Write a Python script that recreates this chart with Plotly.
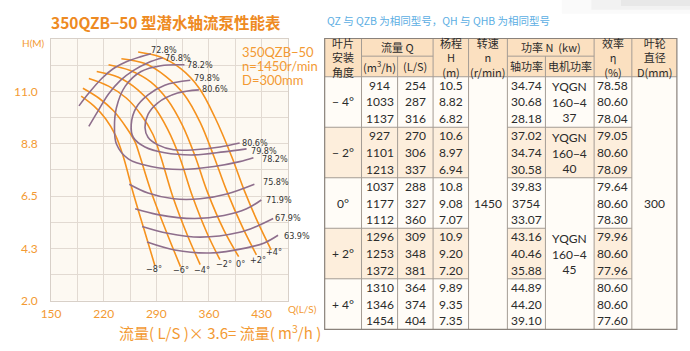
import plotly.graph_objects as go

W, H = 690, 351

# ---------------- chart data ----------------
x_grid = [150, 185, 220, 255, 290, 325, 360, 395, 430, 465]
x_tick_text = ["150", "", "220", "", "290", "", "360", "", "430", ""]
y_grid = [2.0, 3.125, 4.25, 5.375, 6.5, 7.625, 8.75, 9.875, 11.0, 12.125, 13.25]
y_tick_text = ["2.0", "", "4.3", "", "6.5", "", "8.8", "", "11.0", "", ""]

# blade angle curves (Q in L/S, H in m)
ang_labels = ["−8°", "−6°", "−4°", "−2°", "0°", "+2°", "+4°"]
q_m8 = [190, 206.8, 222.5, 235.6, 246.1, 259.2, 273.6, 288.0]
h_m8 = [10.80, 10.38, 9.83, 9.12, 8.19, 6.63, 5.07, 3.51]
q_m6 = [192.3, 213.3, 233.0, 250.0, 261.8, 268.4, 282.8, 302.5, 322.1]
h_m6 = [11.14, 10.72, 10.17, 9.45, 8.82, 8.19, 6.71, 5.03, 3.46]
q_m4 = [200.2, 226.4, 250.0, 269.7, 285.4, 295.9, 311.6, 331.3, 348.3]
h_m4 = [11.56, 11.23, 10.72, 10.00, 9.16, 8.19, 6.50, 4.81, 3.55]
q_m2 = [210.7, 239.5, 265.8, 288.0, 305.1, 320.8, 337.9, 357.5, 374.6]
h_m2 = [11.86, 11.61, 11.06, 10.30, 9.37, 8.19, 6.50, 4.90, 3.76]
q_0 = [226.4, 255.3, 282.8, 305.1, 324.7, 341.8, 357.5, 379.8, 399.5]
h_0 = [12.15, 11.90, 11.40, 10.63, 9.54, 8.19, 6.71, 5.03, 3.89]
q_p2 = [243.5, 274.9, 302.5, 327.4, 348.3, 366.7, 383.7, 404.7, 423.1]
h_p2 = [12.41, 12.20, 11.65, 10.85, 9.67, 8.19, 6.71, 5.15, 3.97]
q_p4 = [265.8, 294.6, 322.1, 347.0, 368.0, 390.3, 407.3, 425.7, 442.7]
h_p4 = [12.70, 12.49, 11.99, 11.14, 9.88, 8.19, 6.71, 5.32, 4.18]
ang_label_q = [286.7, 323.4, 351.0, 379.4, 402.1, 425.7, 446.7]
ang_label_h = [3.38, 3.32, 3.32, 3.59, 3.59, 3.76, 4.07]

# efficiency curves
q_e728 = [187.1, 200.2, 217.3, 233.0, 250.0, 268.4, 282.8]
h_e728 = [10.38, 10.93, 11.56, 11.99, 12.28, 12.49, 12.62]
q_e768 = [200.2, 213.3, 226.4, 242.2, 259.2, 278.9, 298.5]
h_e768 = [9.50, 10.21, 10.89, 11.48, 11.90, 12.24, 12.45]
q_e782 = [327.4, 295.9, 269.7, 248.7, 236.9, 234.3, 236.9, 252.6, 282.8, 322.1, 366.7, 400.8, 419.1]
h_e782 = [12.15, 12.11, 11.86, 11.23, 10.30, 9.45, 8.74, 8.10, 7.77, 7.64, 7.77, 7.98, 8.15]
q_e798 = [335.2, 301.2, 278.9, 263.1, 256.6, 259.2, 274.9, 301.2, 340.5, 379.8, 410.0]
h_e798 = [11.48, 11.27, 10.85, 10.30, 9.58, 9.03, 8.61, 8.36, 8.27, 8.40, 8.53]
q_e806 = [346.6, 318.2, 292.0, 278.9, 274.9, 278.9, 292.0, 313.0, 340.5, 374.6, 400.8]
h_e806 = [11.07, 10.93, 10.51, 10.01, 9.45, 9.03, 8.70, 8.49, 8.49, 8.61, 8.78]
q_e758 = [254.0, 278.9, 313.0, 348.3, 383.7, 420.4]
h_e758 = [7.01, 6.63, 6.38, 6.38, 6.59, 7.01]
q_e719 = [261.8, 292.0, 340.5, 379.8, 410.0, 429.6]
h_e719 = [5.95, 5.70, 5.53, 5.66, 5.95, 6.33]
q_e679 = [271.0, 305.1, 348.3, 400.8, 423.1, 445.4]
h_e679 = [5.19, 4.90, 4.73, 4.94, 5.19, 5.53]
q_e639 = [277.6, 314.3, 361.5, 410.0, 433.6, 451.9]
h_e639 = [4.52, 4.18, 4.05, 4.27, 4.48, 4.81]

# label anchor = left edge of each efficiency label
eff_labels = ["72.8%", "76.8%", "78.2%", "79.8%", "80.6%", "80.6%", "79.8%", "78.2%",
              "75.8%", "71.9%", "67.9%", "63.9%"]
eff_label_q = [280.0, 299.0, 328.5, 338.0, 348.5, 401.5, 413.0, 427.5, 429.5, 433.0, 445.5, 457.0]
eff_label_h = [12.79, 12.44, 12.13, 11.56, 11.10, 8.78, 8.44, 8.10, 7.09, 6.33, 5.57, 4.77]

# ---------------- table data ----------------
tbl_angles = ["− 4°", "− 2°", "0°", "+ 2°", "+ 4°"]
tbl_q_m3h = ["914", "1033", "1137", "927", "1101", "1213", "1037", "1177", "1112",
             "1296", "1253", "1372", "1310", "1346", "1454"]
tbl_q_ls = ["254", "287", "316", "270", "306", "337", "288", "327", "360",
            "309", "348", "381", "364", "374", "404"]
tbl_head = ["10.5", "8.82", "6.82", "10.6", "8.97", "6.94", "10.8", "9.08", "7.07",
            "10.9", "9.20", "7.20", "9.89", "9.35", "7.35"]
tbl_shaft = ["34.74", "30.68", "28.18", "37.02", "34.74", "30.58", "39.83", "3754", "33.07",
             "43.16", "40.46", "35.88", "44.89", "44.20", "39.10"]
tbl_eff = ["78.58", "80.60", "78.04", "79.05", "80.60", "78.09", "79.64", "80.60", "78.30",
           "79.96", "80.60", "77.96", "80.60", "80.60", "77.60"]
tbl_motor = ["YQGN<br>160−4<br>37", "YQGN<br>160−4<br>40", "YQGN<br>160−4<br>45"]
tbl_motor_rows = [(0, 3), (3, 6), (6, 15)]
tbl_speed = "1450"
tbl_diam = "300"

# ---------------- styling ----------------
ORANGE = "#F5921E"
ORANGE_TXT = "#F39A33"
PURPLE = "#8E6E8C"
GRID = "#E2DAD2"
CJK = "Noto Sans CJK SC"
NUM = "Lato, Noto Sans CJK SC, sans-serif"
NARROW = "Liberation Sans Narrow, DejaVu Sans Condensed, sans-serif"


def px(x):
    return x / W


def py(y):
    return 1 - y / H


fig = go.Figure()

angle_q = [q_m8, q_m6, q_m4, q_m2, q_0, q_p2, q_p4]
angle_h = [h_m8, h_m6, h_m4, h_m2, h_0, h_p2, h_p4]
for q, h in zip(angle_q, angle_h):
    fig.add_trace(go.Scatter(x=q, y=h, mode="lines", line=dict(color=ORANGE, width=1.6, shape="spline"),
                             hoverinfo="skip", cliponaxis=False))

eff_q = [q_e728, q_e768, q_e782, q_e798, q_e806, q_e758, q_e719, q_e679, q_e639]
eff_h = [h_e728, h_e768, h_e782, h_e798, h_e806, h_e758, h_e719, h_e679, h_e639]
for q, h in zip(eff_q, eff_h):
    fig.add_trace(go.Scatter(x=q, y=h, mode="lines", line=dict(color=PURPLE, width=1.6, shape="spline"),
                             hoverinfo="skip", cliponaxis=False))

ann = []
shapes = []

for t, q, h in zip(eff_labels, eff_label_q, eff_label_h):
    ann.append(dict(x=q, y=h, xref="x", yref="y", text=t, showarrow=False, xanchor="left", yanchor="middle",
                    font=dict(size=9, color="#333333", family=NARROW)))
for t, q, h in zip(ang_labels, ang_label_q, ang_label_h):
    ann.append(dict(x=q, y=h, xref="x", yref="y", text=t, showarrow=False, xanchor="center", yanchor="middle",
                    font=dict(size=9, color="#333333", family=NARROW)))

# chart texts
ann.append(dict(x=px(40), y=py(22), xref="paper", yref="paper", xanchor="left", yanchor="middle",
                text="<b>350QZB−50 型潜水轴流泵性能表</b>", showarrow=False,
                font=dict(size=15.5, color="#EE8A22", family=CJK)))
ann.append(dict(x=px(24), y=py(44), xref="paper", yref="paper", xanchor="center", yanchor="middle",
                text="H(M)", showarrow=False, font=dict(size=10, color=ORANGE_TXT, family=NUM)))
ann.append(dict(x=px(297), y=py(315), xref="paper", yref="paper", xanchor="center", yanchor="middle",
                text="Q(L/S)", showarrow=False, font=dict(size=10, color=ORANGE_TXT, family=NUM)))
ann.append(dict(x=px(213), y=py(339), xref="paper", yref="paper", xanchor="center", yanchor="middle",
                text="流量( L/S )× 3.6= 流量( m<sup>3</sup>/h )", showarrow=False,
                font=dict(size=15, color=ORANGE_TXT, family=CJK)))
for i, t in enumerate(["350QZB−50", "n=1450r/min", "D=300mm"]):
    ann.append(dict(x=px(233), y=py(53 + 14.5 * i), xref="paper", yref="paper", xanchor="left", yanchor="middle",
                    text=t, showarrow=False, font=dict(size=13, color=ORANGE_TXT, family=NUM)))

# note above table
ann.append(dict(x=px(320), y=py(21), xref="paper", yref="paper", xanchor="left", yanchor="middle",
                text="QZ 与 QZB 为相同型号，QH 与 QHB 为相同型号", showarrow=False,
                font=dict(size=10.5, color="#5BAEE3", family=CJK)))

# ---------------- table drawing ----------------
cx = [319.3, 356.7, 393.3, 429.3, 465.3, 504.7, 543.3, 592.7, 631.0, 676.7]
t_top, t_mid, t_hb, t_bot = 39.3, 57.3, 78.3, 336.0
row_h = (t_bot - t_hb) / 15
gy = [t_hb + 3 * row_h * k for k in range(6)]
HEAD_BG = "#FBE0C0"
PEACH = "#FDEEDC"
BODY = "#FFFCF7"
LINE = "#A49C94"


def rect(x0, y0, x1, y1, fill):
    shapes.append(dict(type="rect", xref="paper", yref="paper", x0=px(x0), x1=px(x1), y0=py(y1), y1=py(y0),
                       fillcolor=fill, line=dict(width=0), layer="below"))


def hline(x0, x1, y, w=1, c=LINE):
    shapes.append(dict(type="line", xref="paper", yref="paper", x0=px(x0), x1=px(x1), y0=py(y), y1=py(y),
                       line=dict(color=c, width=w)))


def vline(x, y0, y1, w=1, c=LINE):
    shapes.append(dict(type="line", xref="paper", yref="paper", x0=px(x), x1=px(x), y0=py(y0), y1=py(y1),
                       line=dict(color=c, width=w)))


# faint shadow at top right of the page
for i, a in enumerate([0.04, 0.06, 0.08]):
    shapes.append(dict(type="rect", xref="paper", yref="paper", x0=px(560 + 30 * i), x1=1.0,
                       y0=py(14 - 4 * i), y1=1.0, fillcolor="rgba(120,120,120,%.2f)" % a,
                       line=dict(width=0), layer="below"))

rect(cx[0], t_top, cx[-1], t_hb, HEAD_BG)
rect(cx[0], t_hb, cx[-1], t_bot, BODY)
for g in (1, 3):
    rect(cx[0], gy[g], cx[4], gy[g + 1], PEACH)
    rect(cx[5], gy[g], cx[6], gy[g + 1], PEACH)
    rect(cx[7], gy[g], cx[8], gy[g + 1], PEACH)
rect(cx[6], gy[1], cx[7], gy[2], PEACH)

# header lines
hline(cx[1], cx[3], t_mid)
hline(cx[5], cx[7], t_mid)
hline(cx[0], cx[-1], t_hb)
for i, x in enumerate(cx[1:-1], start=1):
    if i in (2, 6):
        vline(x, t_mid, t_bot)
    else:
        vline(x, t_top, t_bot)
# group lines
for k in range(1, 5):
    hline(cx[0], cx[4], gy[k])
    hline(cx[5], cx[6], gy[k])
    hline(cx[7], cx[8], gy[k])
for k in (1, 2):
    hline(cx[6], cx[7], gy[k])
# outer border
shapes.append(dict(type="rect", xref="paper", yref="paper", x0=px(cx[0]), x1=px(cx[-1]),
                   y0=py(t_bot), y1=py(t_top), line=dict(color="#8A827B", width=1.2)))


def cell_text(xc, yc, text, size=12, family=NUM):
    ann.append(dict(x=px(xc), y=py(yc), xref="paper", yref="paper", xanchor="center", yanchor="middle",
                    text=text, showarrow=False, font=dict(size=size, color="#2B2B2B", family=family)))


def ccenter(i):
    return (cx[i] + cx[i + 1]) / 2


# header texts
cell_text(ccenter(0), (t_top + t_hb) / 2, "叶片<br>安装<br>角度", 11, CJK)
cell_text((cx[1] + cx[3]) / 2, (t_top + t_mid) / 2, "流量 Q", 11, CJK)
cell_text(ccenter(1), (t_mid + t_hb) / 2, "(m<sup>3</sup>/h)", 11, CJK)
cell_text(ccenter(2), (t_mid + t_hb) / 2, "(L/S)", 11, CJK)
cell_text(ccenter(3), (t_top + t_hb) / 2, "杨程<br>H<br>(m)", 11, CJK)
cell_text(ccenter(4), (t_top + t_hb) / 2, "转速<br>n<br>(r/min)", 11, CJK)
cell_text((cx[5] + cx[7]) / 2, (t_top + t_mid) / 2, "功率 N  (kw)", 11, CJK)
cell_text(ccenter(5), (t_mid + t_hb) / 2, "轴功率", 11, CJK)
cell_text(ccenter(6), (t_mid + t_hb) / 2, "电机功率", 11, CJK)
cell_text(ccenter(7), (t_top + t_hb) / 2, "效率<br>η<br>(%)", 11, CJK)
cell_text(ccenter(8), (t_top + t_hb) / 2, "叶轮<br>直径<br>D(mm)", 11, CJK)

# body texts
for g, a in enumerate(tbl_angles):
    cell_text(ccenter(0), (gy[g] + gy[g + 1]) / 2, a, 12)
for r in range(15):
    yc = t_hb + row_h * (r + 0.5)
    cell_text(ccenter(1), yc, tbl_q_m3h[r])
    cell_text(ccenter(2), yc, tbl_q_ls[r])
    cell_text(ccenter(3), yc, tbl_head[r])
    cell_text(ccenter(5), yc, tbl_shaft[r])
    cell_text(ccenter(7), yc, tbl_eff[r])
for t, (r0, r1) in zip(tbl_motor, tbl_motor_rows):
    cell_text(ccenter(6), t_hb + row_h * (r0 + r1) / 2, t, 12)
cell_text(ccenter(4), (t_hb + t_bot) / 2, tbl_speed)
cell_text(ccenter(8), (t_hb + t_bot) / 2, tbl_diam)

fig.update_layout(
    width=W, height=H, margin=dict(l=0, r=0, t=0, b=0),
    paper_bgcolor="white", plot_bgcolor="#FDF9F2", showlegend=False,
    annotations=ann, shapes=shapes,
    xaxis=dict(domain=[px(41.7), px(282.0)], range=[150, 465], tickmode="array", tickvals=x_grid,
               ticktext=x_tick_text, showgrid=True, gridcolor=GRID, gridwidth=1, zeroline=False,
               showline=True, linecolor="#D8D0C8", mirror=True, ticks="", ticklabelstandoff=2,
               tickfont=dict(size=12, color=ORANGE_TXT, family=NUM)),
    yaxis=dict(domain=[py(306.7), py(40.0)], range=[2.0, 13.25], tickmode="array", tickvals=y_grid,
               ticktext=y_tick_text, showgrid=True, gridcolor=GRID, gridwidth=1, zeroline=False,
               showline=True, linecolor="#D8D0C8", mirror=True, ticks="", ticklabelstandoff=10,
               tickfont=dict(size=12, color=ORANGE_TXT, family=NUM)),
)

fig.write_html("out.html")
